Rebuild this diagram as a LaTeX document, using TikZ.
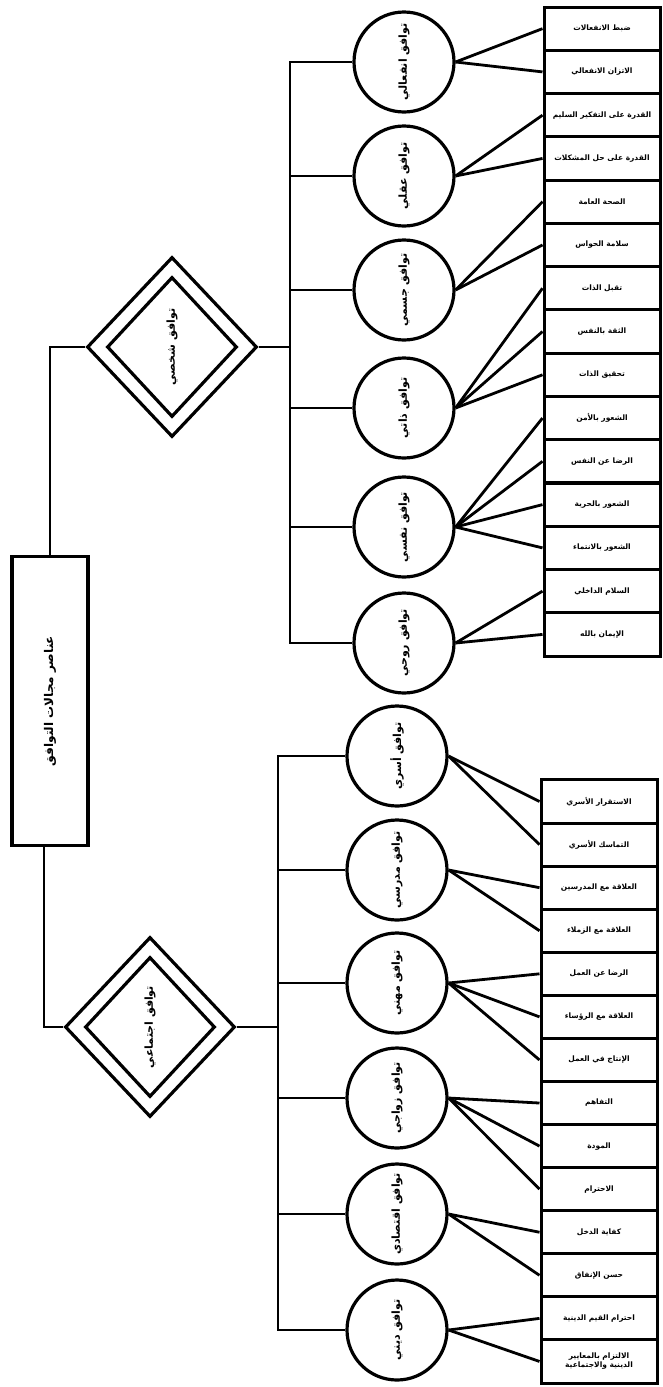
\documentclass[tikz,border=0pt]{standalone}
\usepackage{fontspec}
\newfontfamily\arabicfont[Script=Arabic]{DejaVu Sans}
\TeXXeTstate=1
\usetikzlibrary{shapes.geometric, positioning, calc}

\newcommand{\ar}[1]{{\arabicfont\bfseries\beginR #1\endR}}
\newcommand{\upar}[1]{\rotatebox{90}{\ar{#1}}}

\tikzset{
  link/.style={line width=2.8pt},
  area/.style={circle, draw, line width=3.2pt, minimum size=100pt, inner sep=0pt, font=\fontsize{11}{13}\selectfont},
  kind/.style={diamond, draw, line width=3.2pt, minimum width=170pt, minimum height=180pt, inner sep=0pt},
  kindin/.style={diamond, draw, line width=3.2pt, minimum width=130pt, minimum height=140pt, inner sep=0pt, font=\fontsize{11}{13}\selectfont},
  leaf/.style={rectangle, draw, line width=3pt, minimum width=116pt, minimum height=43.2pt, inner sep=0pt, align=center, font=\fontsize{7.5}{9}\selectfont},
  rootbox/.style={rectangle, draw, line width=3.2pt, minimum width=76pt, minimum height=289pt, inner sep=0pt, font=\fontsize{12}{14}\selectfont}
}

\begin{document}
\begin{tikzpicture}[x=1pt, y=-1pt]

\useasboundingbox (0,0) rectangle (662,1387);

%// root and the two kinds
\node [rootbox] (root) at (50,701) {\upar{عناصر مجالات التوافق}};

\node [kind] (dp) at (172,347) {};
\node [kindin] (dpi) at (dp.center) {\upar{توافق شخصي}};

\node [kind] (ds) at (150,1027) {};
\node [kindin] (dsi) at (ds.center) {\upar{توافق اجتماعي}};

\draw [link] (root.north) |- (dp.west);
\draw [link] ([xshift=-6pt]root.south) |- (ds.west);

%// personal side
\foreach \i/\y/\txt in {1/62/توافق انفعالي, 2/176/توافق عقلي, 3/290/توافق جسمي, 4/408/توافق ذاتي, 5/527/توافق نفسي, 6/643/توافق روحي}
\node [area] (p\i) at (404,\y) {\upar{\txt}};

\coordinate (pbus) at (290,347);
\draw [link] (dp.east) -- (pbus);
\draw [link] (p1.west) -| (pbus) |- (p6.west);
\foreach \i in {2,3,4,5}
\draw [link] (p\i.west) -- (p\i.west -| pbus);

\foreach \i/\txt in {1/ضبط الانفعالات, 2/الاتزان الانفعالي, 3/القدرة على التفكير السليم, 4/القدرة على حل المشكلات, 5/الصحة العامة, 6/سلامة الحواس, 7/تقبل الذات, 8/الثقة بالنفس, 9/تحقيق الذات, 10/الشعور بالأمن, 11/الرضا عن النفس, 12/الشعور بالحرية, 13/الشعور بالانتماء, 14/السلام الداخلي, 15/الإيمان بالله}
\node [leaf] (pb\i) at (602,{7+43.27*(\i-0.5)}) {\ar{\txt}};

\foreach \c/\b in {1/1,1/2,2/3,2/4,3/5,3/6,4/7,4/8,4/9,5/10,5/11,5/12,5/13,6/14,6/15}
\draw [link] (p\c.east) -- (pb\b.west);

%// social side
\foreach \i/\y/\txt in {1/756/توافق أسري, 2/870/توافق مدرسي, 3/983/توافق مهني, 4/1098/توافق زواجي, 5/1214/توافق اقتصادي, 6/1330/توافق ديني}
\node [area] (s\i) at (397,\y) {\upar{\txt}};

\coordinate (sbus) at (278,1027);
\draw [link] (ds.east) -- (sbus);
\draw [link] (s1.west) -| (sbus) |- (s6.west);
\foreach \i in {2,3,4,5}
\draw [link] (s\i.west) -- (s\i.west -| sbus);

\foreach \i/\txt in {1/الاستقرار الأسري, 2/التماسك الأسري, 3/العلاقة مع المدرسين, 4/العلاقة مع الزملاء, 5/الرضا عن العمل, 6/العلاقة مع الرؤساء, 7/الإنتاج في العمل, 8/التفاهم, 9/المودة, 10/الاحترام, 11/كفاية الدخل, 12/حسن الإنفاق, 13/احترام القيم الدينية}
\node [leaf] (sb\i) at (599,{780+43.07*(\i-0.5)}) {\ar{\txt}};
\node [leaf] (sb14) at (599,{780+43.07*13.5}) {\ar{الالتزام بالمعايير}\\\ar{الدينية والاجتماعية}};

\foreach \c/\b in {1/1,1/2,2/3,2/4,3/5,3/6,3/7,4/8,4/9,4/10,5/11,5/12,6/13,6/14}
\draw [link] (s\c.east) -- (sb\b.west);

\end{tikzpicture}
\end{document}
